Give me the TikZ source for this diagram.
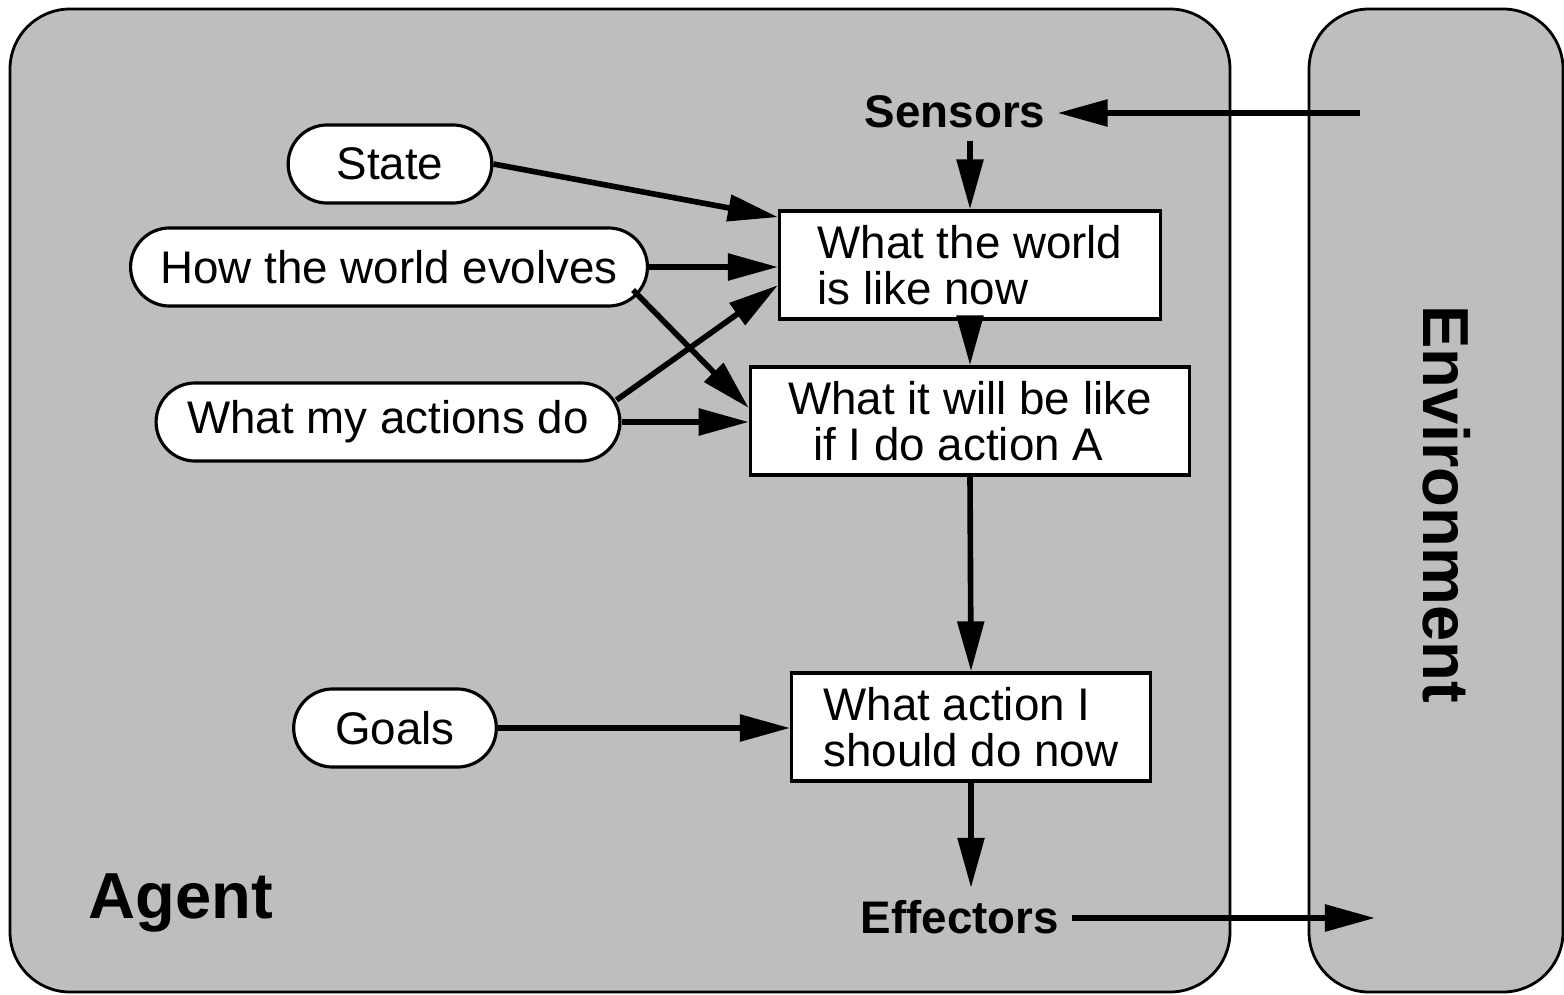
\documentclass[tikz,border=0pt]{standalone}
\usepackage{fontspec}
\setmainfont{Liberation Sans}
\usepackage{tikz}
\usetikzlibrary{arrows.meta}
\usetikzlibrary{shapes.misc}
\definecolor{panelgray}{gray}{0.745}
\tikzstyle{panel}=[draw=black, fill=panelgray, line width=0.8pt, rounded corners=0.6cm]
\tikzstyle{oval}=[rounded rectangle, draw=black, fill=white, line width=0.9pt, minimum height=0.78cm, font=\fontsize{13}{13}\selectfont]
\tikzstyle{box}=[rectangle, draw=black, fill=white, line width=0.9pt, align=left, inner xsep=0.38cm, minimum height=1.08cm, font=\fontsize{13}{13}\selectfont]
\tikzstyle{tag}=[font=\bfseries\fontsize{13}{13}\selectfont]
\tikzstyle{bigtag}=[font=\bfseries\fontsize{18.5}{18.5}\selectfont, inner sep=0]
\tikzstyle{arr}=[line width=1.6pt, -{Triangle[length=0.5cm,width=0.26cm]}]

\begin{document}
\begin{tikzpicture}[x=0.01cm,y=-0.01cm]
\useasboundingbox (0,0) rectangle (1564,994);
\draw[panel] (10,9) rectangle (1230,992);
\draw[panel] (1309,9) rectangle (1563,992);
\node[bigtag, anchor=base west] (agent) at (88,918) {Agent};
\node[bigtag, rotate=-90] (env) at (1447,504) {Environment};
\node[oval, minimum width=2.27cm] (state) at (390,164) {State};
\node[oval, minimum width=5.40cm] (evolve) at (389,267) {How the world evolves};
\node[oval, minimum width=4.87cm] (act) at (388,422) {What my actions do};
\node[oval, minimum width=2.26cm] (goals) at (395,728) {Goals};
\node[box] (wnow) at (970,265) {What the world\\is like now};
\node[box] (wnext) at (970,421) {What it will be like\\\hspace*{0.25cm}if I do action A};
\node[box, inner xsep=0.32cm] (what) at (971,727) {What action I\\should do now};
\node[tag] (sens) at (955,112) {Sensors};
\node[tag] (eff) at (960,917) {Effectors};
\coordinate (envin) at (1360,113);
\coordinate (envout) at (1375,918);
\draw[arr](envin) -- (sens.east |- envin);
\draw[arr](sens.south -| wnow.north) -- (wnow.north);
\draw[arr](state.east) -- (wnow.166);
\draw[arr](evolve.east) -- (evolve.east -| wnow.west);
\draw[arr]([shift={(-16,23)}]evolve.east) -- ([shift={(0,-13)}]wnext.west);
\draw[arr]([shift={(-5,-22)}]act.east) -- (wnow.186);
\draw[arr](act.east) -- (act.east -| wnext.west);
\draw[arr](wnow.south) -- (wnext.north);
\draw[arr](wnext.south) -- (what.north);
\draw[arr](goals.east) -- (goals.east -| what.west);
\draw[arr](what.south) -- (what.south |- eff.north);
\draw[arr](eff.east |- envout) -- (envout);
\end{tikzpicture}
\end{document}
